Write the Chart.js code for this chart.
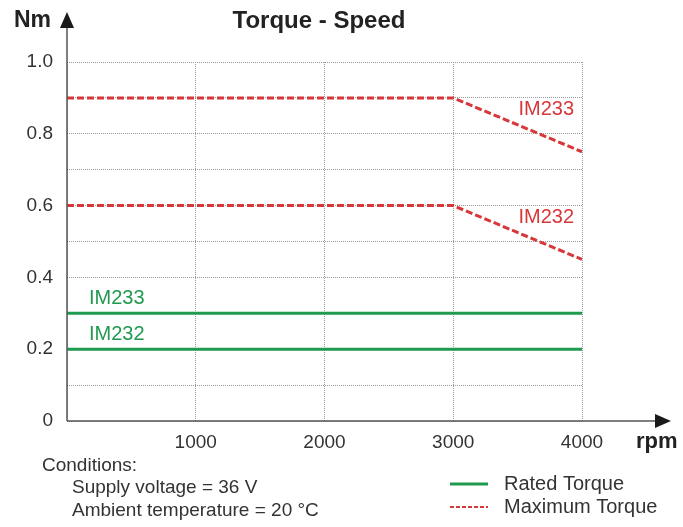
<!DOCTYPE html>
<html lang="en">
<head>
  <meta charset="UTF-8">
  <title>Torque - Speed</title>
  <script src="https://cdn.jsdelivr.net/npm/chart.js"></script>
  <style>
    * { box-sizing: border-box; margin: 0; padding: 0; }
    body { background: #fff; width: 683px; height: 527px; overflow: hidden; }
    #wrap { position: relative; width: 683px; height: 527px; }
  </style>
</head>
<body>
  <div id="wrap"><canvas id="chart" width="683" height="527"></canvas></div>
  <script>
    // data
    const speed = [0, 3000, 4000];
    const maxIM233 = [0.9, 0.9, 0.75];
    const maxIM232 = [0.6, 0.6, 0.45];
    const ratedIM233 = [0.3, 0.3, 0.3];
    const ratedIM232 = [0.2, 0.2, 0.2];
    const xTicks = [0, 1000, 2000, 3000, 4000];

    const GREEN = '#1f9a4e';
    const RED = '#d8373a';
    const FONT = '"Liberation Sans", Arial, sans-serif';

    const pts = ys => speed.map((s, i) => ({ x: s, y: ys[i] }));

    // curve labels: text, anchor x, anchor y, colour, side
    const curveLabels = [
      { text: 'IM233', x: 4000, y: 0.9, color: RED, side: 'right' },
      { text: 'IM232', x: 4000, y: 0.6, color: RED, side: 'right' },
      { text: 'IM233', x: 0, y: 0.3, color: GREEN, side: 'left' },
      { text: 'IM232', x: 0, y: 0.2, color: GREEN, side: 'left' }
    ];

    const extras = {
      id: 'extras',
      afterDatasetsDraw(chart) {
        const { ctx, chartArea: a, scales: { x, y } } = chart;
        ctx.save();

        // axes with arrows
        ctx.strokeStyle = '#555';
        ctx.lineWidth = 1.5;
        ctx.beginPath();
        ctx.moveTo(a.left, a.bottom);
        ctx.lineTo(a.left, 22);
        ctx.moveTo(a.left, a.bottom);
        ctx.lineTo(660, a.bottom);
        ctx.stroke();
        ctx.fillStyle = '#1a1a1a';
        ctx.beginPath();
        ctx.moveTo(a.left, 12);
        ctx.lineTo(a.left - 7, 28);
        ctx.lineTo(a.left + 7, 28);
        ctx.closePath();
        ctx.fill();
        ctx.beginPath();
        ctx.moveTo(671, a.bottom);
        ctx.lineTo(655, a.bottom - 7);
        ctx.lineTo(655, a.bottom + 7);
        ctx.closePath();
        ctx.fill();

        // titles
        ctx.fillStyle = '#222';
        ctx.textBaseline = 'middle';
        ctx.font = 'bold 24px ' + FONT;
        ctx.textAlign = 'center';
        ctx.fillText('Torque - Speed', 319, 21);
        ctx.textAlign = 'left';
        ctx.font = 'bold 23px ' + FONT;
        ctx.fillText('Nm', 14, 21);
        ctx.font = 'bold 22px ' + FONT;
        ctx.fillText('rpm', 636, 442);

        // curve labels
        ctx.font = '20px ' + FONT;
        curveLabels.forEach(l => {
          ctx.fillStyle = l.color;
          if (l.side === 'right') {
            ctx.textAlign = 'right';
            ctx.fillText(l.text, x.getPixelForValue(l.x) - 8, y.getPixelForValue(l.y) + 12);
          } else {
            ctx.textAlign = 'left';
            ctx.fillText(l.text, x.getPixelForValue(l.x) + 22, y.getPixelForValue(l.y) - 15);
          }
        });

        // conditions
        ctx.fillStyle = '#333';
        ctx.textAlign = 'left';
        ctx.font = '19px ' + FONT;
        ctx.fillText('Conditions:', 42, 466);
        ctx.fillText('Supply voltage = 36 V', 72, 488);
        ctx.fillText('Ambient temperature = 20 \u00B0C', 72, 511);

        // legend
        ctx.lineWidth = 3;
        ctx.strokeStyle = GREEN;
        ctx.beginPath();
        ctx.moveTo(450, 484);
        ctx.lineTo(488, 484);
        ctx.stroke();
        ctx.lineWidth = 2;
        ctx.strokeStyle = RED;
        ctx.setLineDash([4, 2]);
        ctx.beginPath();
        ctx.moveTo(450, 507);
        ctx.lineTo(488, 507);
        ctx.stroke();
        ctx.setLineDash([]);
        ctx.fillStyle = '#333';
        ctx.font = '20px ' + FONT;
        ctx.fillText('Rated Torque', 504, 484);
        ctx.fillText('Maximum Torque', 504, 507);

        ctx.restore();
      }
    };

    const gridOpts = {
      color: '#999',
      lineWidth: 1,
      drawTicks: false
    };

    new Chart(document.getElementById('chart'), {
      type: 'line',
      data: {
        datasets: [
          { label: 'IM233 max', data: pts(maxIM233), borderColor: RED, borderWidth: 3, borderDash: [7, 3] },
          { label: 'IM232 max', data: pts(maxIM232), borderColor: RED, borderWidth: 3, borderDash: [7, 3] },
          { label: 'IM233 rated', data: pts(ratedIM233), borderColor: GREEN, borderWidth: 3 },
          { label: 'IM232 rated', data: pts(ratedIM232), borderColor: GREEN, borderWidth: 3 }
        ]
      },
      options: {
        responsive: false,
        animation: false,
        elements: { point: { radius: 0 }, line: { tension: 0, borderCapStyle: 'butt' } },
        layout: { padding: { left: 0, top: 62, right: 101, bottom: 76 } },
        plugins: { legend: { display: false }, tooltip: { enabled: false } },
        scales: {
          x: {
            type: 'linear',
            min: 0,
            max: 4000,
            afterFit: s => { s.height = 30; },
            afterBuildTicks: s => { s.ticks = xTicks.map(v => ({ value: v })); },
            grid: Object.assign({}, gridOpts),
            border: { display: false, dash: [1, 1] },
            ticks: {
              autoSkip: false,
              maxRotation: 0,
              padding: 10,
              color: '#333',
              font: { family: FONT, size: 19 },
              callback: v => v === 0 ? '' : String(v)
            }
          },
          y: {
            min: 0,
            max: 1.0,
            afterFit: s => { s.width = 67; },
            grid: Object.assign({}, gridOpts),
            border: { display: false, dash: [1, 1] },
            ticks: {
              stepSize: 0.1,
              padding: 14,
              color: '#333',
              font: { family: FONT, size: 19 },
              callback: v => {
                const k = Math.round(v * 10);
                if (k % 2) return '';
                return k === 0 ? '0' : (k / 10).toFixed(1);
              }
            }
          }
        }
      },
      plugins: [extras]
    });
  </script>
</body>
</html>
